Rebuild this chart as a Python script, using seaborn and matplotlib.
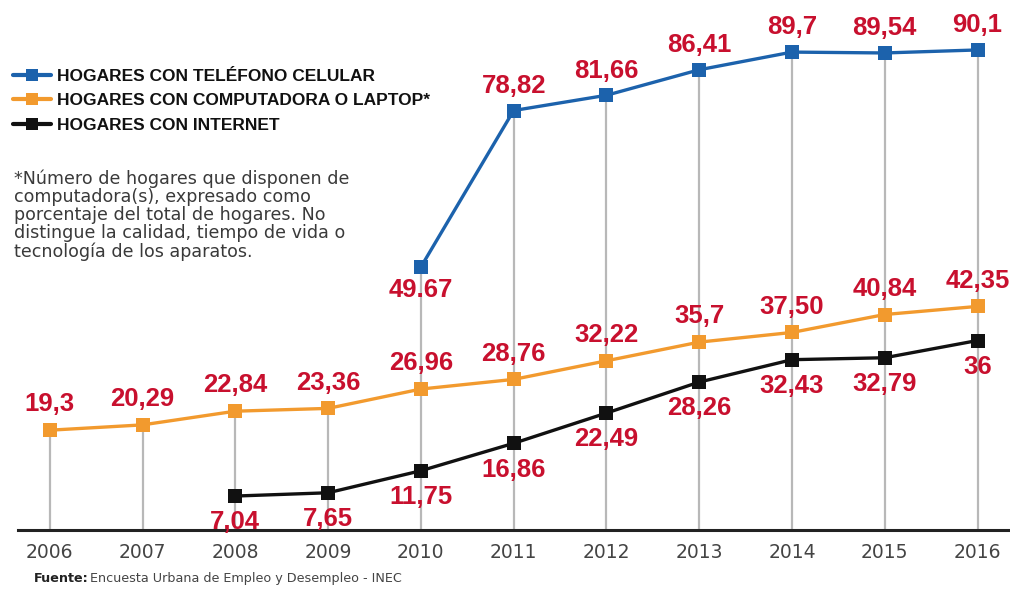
import matplotlib
matplotlib.use("Agg")
import matplotlib.pyplot as plt
import seaborn as sns
import pandas as pd
import numpy as np
from matplotlib.lines import Line2D

years = [2006, 2007, 2008, 2009, 2010, 2011, 2012, 2013, 2014, 2015, 2016]

celular_years = [2010, 2011, 2012, 2013, 2014, 2015, 2016]
celular = [49.67, 78.82, 81.66, 86.41, 89.7, 89.54, 90.1]
celular_labels = ["49.67", "78,82", "81,66", "86,41", "89,7", "89,54", "90,1"]

computadora_years = years
computadora = [19.3, 20.29, 22.84, 23.36, 26.96, 28.76, 32.22, 35.7, 37.50, 40.84, 42.35]
computadora_labels = ["19,3", "20,29", "22,84", "23,36", "26,96", "28,76", "32,22",
                      "35,7", "37,50", "40,84", "42,35"]

internet_years = [2008, 2009, 2010, 2011, 2012, 2013, 2014, 2015, 2016]
internet = [7.04, 7.65, 11.75, 16.86, 22.49, 28.26, 32.43, 32.79, 36]
internet_labels = ["7,04", "7,65", "11,75", "16,86", "22,49", "28,26", "32,43", "32,79", "36"]

series_names = ["HOGARES CON TELÉFONO CELULAR",
                "HOGARES CON COMPUTADORA O LAPTOP*",
                "HOGARES CON INTERNET"]
colors = ["#1c62ac", "#f29a2e", "#111111"]
label_red = "#c8102e"

footnote = ("*Número de hogares que disponen de\n"
            "computadora(s), expresado como\n"
            "porcentaje del total de hogares. No\n"
            "distingue la calidad, tiempo de vida o\n"
            "tecnología de los aparatos.")
source_bold = "Fuente:"
source_text = "Encuesta Urbana de Empleo y Desempleo - INEC"

sns.set_theme(style="white")
plt.rcParams["font.family"] = ["DejaVu Sans"]
narrow = ["Liberation Sans Narrow", "Liberation Sans", "DejaVu Sans"]

df = pd.concat([
    pd.DataFrame({"year": celular_years, "value": celular, "serie": series_names[0]}),
    pd.DataFrame({"year": computadora_years, "value": computadora, "serie": series_names[1]}),
    pd.DataFrame({"year": internet_years, "value": internet, "serie": series_names[2]}),
])

fig = plt.figure(figsize=(10.10, 5.89), dpi=100)
ax = fig.add_axes([0.018, 0.1, 0.982, 0.9])

# vertical guide from the highest point of each year down to the axis
tops = df.groupby("year")["value"].max()
ax.vlines(tops.index, 0, tops.values, color="#b8b8b8", lw=1.6, zorder=1)

palette = dict(zip(series_names, colors))
sns.lineplot(data=df, x="year", y="value", hue="serie", palette=palette,
             hue_order=series_names, marker="s", markersize=10.5, markeredgewidth=0,
             linewidth=2.4, legend=False, ax=ax, zorder=3)

lab_font = dict(family=narrow, fontweight="bold", color=label_red, fontsize=18.5,
                ha="center", va="center")

for i, (x, y, t) in enumerate(zip(celular_years, celular, celular_labels)):
    dy = -4.2 if i == 0 else 4.6
    ax.text(x, y + dy, t, **lab_font)
for x, y, t in zip(computadora_years, computadora, computadora_labels):
    ax.text(x, y + 4.8, t, **lab_font)
for x, y, t in zip(internet_years, internet, internet_labels):
    ax.text(x, y - 4.9, t, **lab_font)

ax.set_xlim(2005.66, 2016.35)
ax.set_ylim(0.7, 99.4)
ax.set_xticks(years)
ax.set_xticklabels([str(y) for y in years], fontsize=13.5, color="#444444")
ax.tick_params(axis="x", length=0, pad=9)
ax.set_yticks([])
ax.set_xlabel("")
ax.set_ylabel("")
for s in ["top", "right", "left"]:
    ax.spines[s].set_visible(False)
ax.spines["bottom"].set_color("#222222")
ax.spines["bottom"].set_linewidth(2.2)

handles = [Line2D([0], [0], color=c, lw=3, marker="s", markersize=9, markeredgewidth=0)
           for c in colors]
leg = ax.legend(handles, series_names, loc="upper left", bbox_to_anchor=(-0.021, 0.9),
                frameon=False, handlelength=2.2, handletextpad=0.35, labelspacing=0.55,
                prop=dict(family=narrow, weight="bold", size=12.5))
for t in leg.get_texts():
    t.set_color("#111111")

fig.text(0.014, 0.712, footnote, fontsize=12.6, color="#3a3a3a", va="top", ha="left",
         linespacing=1.0)

fig.text(0.034, 0.018, source_bold, fontsize=9.2, fontweight="bold", color="#222222",
         ha="left", va="center")
fig.text(0.089, 0.018, source_text, fontsize=9.2, color="#444444", ha="left", va="center")

fig.savefig("out.png", dpi=100, facecolor="white")
